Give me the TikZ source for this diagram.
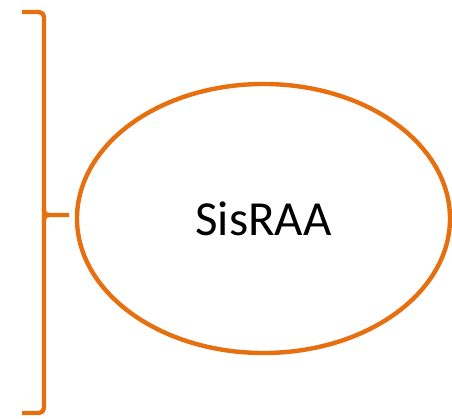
\documentclass[tikz,border=0pt]{standalone}
\usepackage{fontspec}
\setmainfont{Carlito}
\usetikzlibrary{shapes.geometric}
\definecolor{braceorange}{RGB}{230,112,16}
\begin{document}
\begin{tikzpicture}[x=1pt,y=1pt,line width=4.4pt,line join=round]
        \useasboundingbox (0,0) rectangle (452,-419);
        \node[draw=braceorange, ellipse, inner sep=0pt, minimum width=373pt, minimum height=269pt,
              font=\fontsize{49}{57}\selectfont] (sisraa) at (263.5,-218.5) {SisRAA};
        % brace on the left
        \coordinate (tip) at (69,-215);
        \draw[braceorange, rounded corners=5pt] (22,-12) -- (44,-12) -- (44,-413) -- (22,-413);
        \draw[braceorange] (44,-209) .. controls (44,-214) and (46,-215) .. (50,-215) -- (tip);
        \draw[braceorange] (44,-221) .. controls (44,-216) and (46,-215) .. (50,-215);
    \end{tikzpicture}
\end{document}
